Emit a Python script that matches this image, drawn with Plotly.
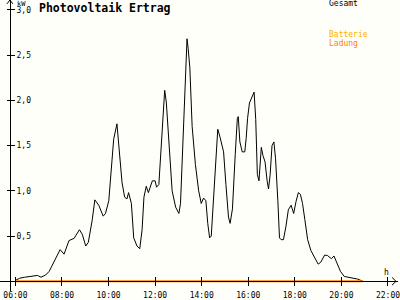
import plotly.graph_objects as go

# ---- data (hours of day, kW) ----
hours = [6.00, 6.19, 6.40, 6.60, 6.80, 6.95, 7.10, 7.30, 7.45, 7.66, 7.92, 8.09, 8.30, 8.52,
         8.75, 8.87, 9.02, 9.13, 9.30, 9.41, 9.58, 9.77, 9.87, 10.01, 10.08, 10.22, 10.36,
         10.43, 10.58, 10.69, 10.79, 10.86, 10.98, 11.08, 11.22, 11.34, 11.44, 11.52, 11.62,
         11.71, 11.88, 12.00, 12.06, 12.16, 12.24, 12.31, 12.41, 12.48, 12.59, 12.73, 12.88,
         13.02, 13.09, 13.19, 13.28, 13.37, 13.42, 13.49, 13.59, 13.73, 13.87, 13.98, 14.08,
         14.18, 14.26, 14.34, 14.41, 14.51, 14.61, 14.69, 14.79, 14.94, 15.04, 15.15, 15.22,
         15.32, 15.44, 15.53, 15.57, 15.64, 15.74, 15.85, 15.91, 15.97, 16.05, 16.12, 16.18,
         16.25, 16.32, 16.39, 16.46, 16.53, 16.56, 16.63, 16.72, 16.81, 16.87, 16.94, 17.02,
         17.10, 17.17, 17.27, 17.34, 17.41, 17.51, 17.62, 17.72, 17.84, 17.95, 18.05, 18.15,
         18.24, 18.33, 18.43, 18.55, 18.69, 18.86, 19.00, 19.11, 19.28, 19.40, 19.57, 19.68,
         19.79, 19.96, 20.12, 20.40, 20.69, 20.93]
gesamt_kw = [0.01, 0.035, 0.045, 0.05, 0.055, 0.065, 0.045, 0.07, 0.11, 0.21, 0.35, 0.30, 0.45, 0.475,
             0.57, 0.52, 0.39, 0.43, 0.68, 0.90, 0.84, 0.72, 0.75, 0.89, 1.11, 1.57, 1.74,
             1.54, 1.09, 0.93, 0.91, 0.98, 0.86, 0.48, 0.39, 0.36, 0.57, 0.93, 1.05,
             0.98, 1.11, 1.11, 1.04, 1.07, 1.43, 1.71, 2.11, 1.98, 1.50, 1.00, 0.82,
             0.75, 0.86, 1.54, 2.14, 2.68, 2.57, 2.36, 1.71, 1.29, 1.00, 0.86, 0.92,
             0.89, 0.64, 0.48, 0.50, 0.89, 1.32, 1.68, 1.59, 1.43, 1.07, 0.71, 0.64,
             0.80, 1.40, 1.80, 1.82, 1.54, 1.43, 1.43, 1.58, 1.80, 1.97, 2.02, 2.04,
             2.09, 1.79, 1.18, 1.11, 1.39, 1.48, 1.39, 1.32, 1.11, 1.02, 1.18, 1.50,
             1.54, 1.36, 0.89, 0.48, 0.46, 0.46, 0.61, 0.79, 0.84, 0.75, 0.88, 0.98,
             0.96, 0.86, 0.68, 0.46, 0.34, 0.25, 0.19, 0.21, 0.29, 0.285, 0.25, 0.28,
             0.22, 0.11, 0.054, 0.036, 0.025, 0.0]
batterie_hours = [6.00, 20.93]
batterie_kw = [0.0, 0.0]

x_tickvals = [6, 8, 10, 12, 14, 16, 18, 20, 22]
x_ticktext = ["06:00", "08:00", "10:00", "12:00", "14:00", "16:00", "18:00", "20:00", "22:00"]
y_tickvals = [0.5, 1.0, 1.5, 2.0, 2.5, 3.0]
y_ticktext = ["0,5", "1,0", "1,5", "2,0", "2,5", "3,0"]

W, H = 400, 300
X_RANGE = [5.338, 22.43]
Y_RANGE = [-0.107, 3.108]
MONO = "DejaVu Sans Mono"


def px(x):
    return x / W


def py(y):
    return 1 - y / H


fig = go.Figure()
fig.add_trace(go.Scatter(x=hours, y=gesamt_kw, mode="lines",
                         line=dict(color="black", width=1), xaxis="x", yaxis="y",
                         hoverinfo="skip", showlegend=False))
fig.add_trace(go.Scatter(x=batterie_hours, y=batterie_kw, mode="lines",
                         line=dict(color="#FF8000", width=2), xaxis="x2", yaxis="y2",
                         hoverinfo="skip", showlegend=False))

axis_common = dict(showgrid=False, zeroline=False, fixedrange=True)
fig.update_layout(
    width=W, height=H, margin=dict(l=0, r=0, t=0, b=0),
    paper_bgcolor="#fffffa", plot_bgcolor="#fffffa",
    font=dict(family=MONO, size=8, color="black"),
    xaxis=dict(range=X_RANGE, domain=[0, 1], anchor="free", position=10 / H,
               showline=True, linecolor="black", linewidth=1,
               ticks="outside", ticklen=4, tickcolor="black", tickwidth=1,
               tickmode="array", tickvals=x_tickvals, ticktext=x_ticktext,
               ticklabeloverflow="allow", ticklabelstandoff=2,
               tickfont=dict(family=MONO, size=8, color="black"), **axis_common),
    xaxis2=dict(range=X_RANGE, domain=[0, 1], anchor="free", position=10 / H,
                overlaying="x", showline=False,
                ticks="inside", ticklen=4, tickcolor="black", tickwidth=1,
                tickmode="array", tickvals=x_tickvals, showticklabels=False, **axis_common),
    yaxis=dict(range=Y_RANGE, domain=[0, 1], anchor="free", position=10 / W,
               showline=True, linecolor="black", linewidth=1,
               ticks="outside", ticklen=3, tickcolor="black", tickwidth=1,
               tickmode="array", tickvals=y_tickvals, showticklabels=False, **axis_common),
    yaxis2=dict(range=Y_RANGE, domain=[0, 1], anchor="free", position=10 / W,
                overlaying="y", side="right", showline=False,
                ticks="outside", ticklen=4, tickcolor="black", tickwidth=1,
                tickmode="array", tickvals=y_tickvals, ticktext=y_ticktext,
                ticklabeloverflow="allow",
                tickfont=dict(family=MONO, size=8, color="black"), **axis_common),
)

# arrowheads on axes
fig.add_shape(type="path", xref="paper", yref="paper",
              path=f"M {px(7)},{py(4)} L {px(10)},{py(0)} L {px(13)},{py(4)}",
              line=dict(color="black", width=1))
fig.add_shape(type="path", xref="paper", yref="paper",
              path=f"M {px(394)},{py(286)} L {px(398)},{py(290)} L {px(394)},{py(294)}",
              line=dict(color="black", width=1))


def label(text, x, y, color="black", size=8, xanchor="left", yanchor="middle"):
    fig.add_annotation(text=text, x=px(x), y=py(y), xref="paper", yref="paper",
                       showarrow=False, xanchor=xanchor, yanchor=yanchor,
                       font=dict(family=MONO, size=size, color=color))


label("<b>Photovoltaik Ertrag</b>", 106, 8, size=11.5, xanchor="center")
label("kW", 15, -2.5, size=7, yanchor="top")
label("h", 384, 281)
label("Gesamt", 329, 4)
label("Batterie", 329, 36, color="#FFB000")
label("Ladung", 329, 45, color="#FF8000")

fig.write_html("out.html")
